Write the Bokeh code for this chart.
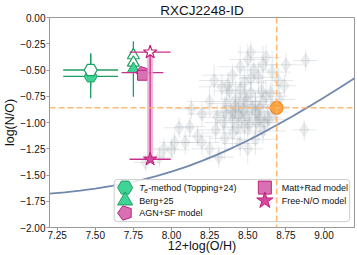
from bokeh.plotting import figure
from bokeh.models import Range1d, FixedTicker, Span
from bokeh.core.properties import value
from bokeh.embed import file_html
from bokeh.resources import INLINE

title_text = "RXCJ2248-ID"
x_label = "12+log(O/H)"
y_label = "log(N/O)"
x_ticks = [7.25, 7.50, 7.75, 8.00, 8.25, 8.50, 8.75, 9.00]
x_tick_labels = ["7.25", "7.50", "7.75", "8.00", "8.25", "8.50", "8.75", "9.00"]
y_ticks = [0.0, -0.25, -0.5, -0.75, -1.0, -1.25, -1.5, -1.75, -2.0]
y_tick_labels = ["0.00", "\u22120.25", "\u22120.50", "\u22120.75", "\u22121.00",
                 "\u22121.25", "\u22121.50", "\u22121.75", "\u22122.00"]

# comparison sample (grey)
cloud_oh = [8.50, 8.62, 8.88, 8.45, 8.54, 8.57, 8.40, 8.28, 8.33, 8.74, 8.66, 8.70,
            8.48, 8.60, 8.52, 8.75, 8.13, 8.35, 8.55, 8.64, 8.48, 8.42, 8.52, 8.60,
            8.38, 8.45, 8.58, 8.68, 8.25, 8.30, 8.50, 8.62, 8.40, 8.56, 8.20, 8.71,
            8.12, 8.29, 8.55, 8.31, 8.87, 8.20, 7.83, 7.92, 8.02, 8.00, 8.09, 8.17,
            8.40, 8.45, 8.35, 8.60, 8.05, 7.95, 8.25, 8.50, 8.36, 8.47, 8.44, 8.58,
            8.42, 8.49, 8.53, 8.57, 8.63, 8.39, 8.46, 8.51, 8.61, 8.66, 8.43, 8.55,
            8.34, 8.48, 8.59, 8.37, 8.52, 8.45, 8.65, 8.41]
cloud_no = [-0.40, -0.38, -0.41, -0.47, -0.50, -0.57, -0.55, -0.60, -0.66, -0.65, -0.52, -0.60,
            -0.62, -0.45, -0.33, -0.45, -0.87, -0.90, -0.90, -0.97, -1.04, -0.78, -0.72, -0.80,
            -0.70, -0.85, -0.86, -0.90, -0.80, -0.95, -0.95, -0.75, -0.98, -1.00, -0.92, -0.78,
            -1.04, -1.07, -1.16, -1.33, -1.07, -1.19, -1.38, -1.33, -1.19, -1.26, -1.19, -1.13,
            -1.10, -1.20, -1.15, -1.08, -1.05, -1.25, -1.25, -1.25, -0.82, -0.88, -0.93, -0.98,
            -0.84, -0.80, -0.86, -0.92, -0.95, -0.89, -0.96, -1.02, -1.00, -0.85, -1.05, -0.83,
            -1.00, -0.76, -0.70, -0.64, -0.58, -0.69, -0.72, -0.91]
cloud_oh_err = [0.12, 0.10, 0.08, 0.15, 0.10, 0.12, 0.20, 0.10, 0.15, 0.08, 0.12, 0.10,
                0.14, 0.10, 0.09, 0.11, 0.12, 0.18, 0.10, 0.12, 0.15, 0.10, 0.20, 0.12,
                0.10, 0.12, 0.10, 0.08, 0.15, 0.12, 0.10, 0.14, 0.10, 0.12, 0.10, 0.10,
                0.10, 0.12, 0.15, 0.10, 0.08, 0.12, 0.08, 0.10, 0.10, 0.12, 0.10, 0.10,
                0.20, 0.12, 0.10, 0.15, 0.10, 0.10, 0.12, 0.10, 0.12, 0.10, 0.15, 0.10,
                0.10, 0.08, 0.12, 0.10, 0.09, 0.12, 0.10, 0.08, 0.10, 0.12, 0.10, 0.09,
                0.12, 0.10, 0.10, 0.12, 0.08, 0.10, 0.09, 0.12]
cloud_no_err = [0.15, 0.12, 0.10, 0.20, 0.12, 0.15, 0.10, 0.15, 0.12, 0.10, 0.20, 0.12,
                0.15, 0.18, 0.10, 0.12, 0.10, 0.15, 0.20, 0.12, 0.15, 0.18, 0.12, 0.20,
                0.10, 0.15, 0.12, 0.10, 0.15, 0.12, 0.18, 0.15, 0.12, 0.10, 0.12, 0.15,
                0.10, 0.12, 0.15, 0.10, 0.10, 0.12, 0.08, 0.10, 0.12, 0.10, 0.12, 0.10,
                0.15, 0.12, 0.20, 0.12, 0.10, 0.10, 0.12, 0.15, 0.15, 0.12, 0.18, 0.12,
                0.10, 0.12, 0.08, 0.10, 0.12, 0.10, 0.08, 0.10, 0.12, 0.10, 0.09, 0.12,
                0.10, 0.12, 0.10, 0.12, 0.10, 0.08, 0.10, 0.12]

# Nicholls+17 relation
curve_oh = [7.2, 7.3, 7.4, 7.5, 7.6, 7.7, 7.8, 7.9, 8.0, 8.1, 8.2, 8.3, 8.4, 8.5,
            8.6, 8.7, 8.8, 8.9, 9.0, 9.1, 9.2]
curve_no = [-1.678, -1.665, -1.649, -1.630, -1.607, -1.580, -1.548, -1.511, -1.468,
            -1.420, -1.366, -1.306, -1.241, -1.171, -1.096, -1.017, -0.935, -0.849,
            -0.761, -0.671, -0.578]

solar_oh = 8.69
solar_no = -0.86

te_oh = [7.47, 7.47]
te_no = [-0.50, -0.56]
te_oh_err = [0.18, 0.18]
te_no_err = [0.16, 0.21]

berg_oh = [7.75, 7.75, 7.75]
berg_no = [-0.36, -0.43, -0.49]
berg_no_err = [0.0, 0.0, 0.265]

agn_oh = [7.81]
agn_no = [-0.525]
agn_oh_err = [0.137]

matt_oh = [7.81]
matt_no = [-0.55]

free_oh = [7.86, 7.86]
free_no = [-0.33, -1.35]
free_oh_err = [0.135, 0.135]

legend_labels = ["-method (Topping+24)", "Berg+25", "AGN+SF model", "Matt+Rad model", "Free-N/O model"]

GREEN_E = "#1f9e63"
GREEN_F = "#3dd495"
MAG_E = "#c0207f"
MAG_F = "#d871b3"
MAG_BAR = "#c8308a"
ORANGE = "#f9a23e"
FONT = "Liberation Sans"

p = figure(frame_width=305, frame_height=210, x_range=Range1d(7.2, 9.2), y_range=Range1d(-2.0, 0.0),
           output_backend="svg", toolbar_location=None,
           min_border_left=47, min_border_right=3, min_border_top=16, min_border_bottom=0)
p.extra_x_ranges = {"lx": Range1d(0, 1)}
p.extra_y_ranges = {"ly": Range1d(0, 1)}
p.xgrid.visible = False
p.ygrid.visible = False
p.outline_line_color = "#999999"
p.background_fill_color = "white"
p.border_fill_color = "white"

p.title.text = title_text
p.title.align = "center"
p.title.text_font = FONT
p.title.text_font_size = "13.5px"
p.title.text_font_style = "normal"
p.title.text_color = "#111111"
p.title.standoff = 0
p.title.offset = 0

for ax in (p.xaxis[0], p.yaxis[0]):
    ax.axis_line_color = "#999999"
    ax.major_tick_line_color = "#999999"
    ax.major_tick_out = 3
    ax.major_tick_in = 0
    ax.minor_tick_line_color = None
    ax.major_label_text_font = FONT
    ax.major_label_text_font_size = "10px"
    ax.major_label_text_color = "#111111"
    ax.axis_label_text_font = FONT
    ax.axis_label_text_font_size = "12.5px"
    ax.axis_label_text_font_style = "normal"
    ax.axis_label_text_color = "#111111"
    ax.major_label_standoff = 1

p.xaxis[0].ticker = FixedTicker(ticks=x_ticks)
p.xaxis[0].major_label_overrides = dict(zip(x_ticks, x_tick_labels))
p.yaxis[0].ticker = FixedTicker(ticks=y_ticks)
p.yaxis[0].major_label_overrides = dict(zip(y_ticks, y_tick_labels))
p.xaxis[0].axis_label = x_label
p.yaxis[0].axis_label = y_label
p.xaxis[0].major_label_standoff = 0
p.xaxis[0].axis_label_standoff = -3
p.yaxis[0].axis_label_standoff = 0

# grey comparison sample
cx0 = [a - e for a, e in zip(cloud_oh, cloud_oh_err)]
cx1 = [a + e for a, e in zip(cloud_oh, cloud_oh_err)]
cy0 = [a - e for a, e in zip(cloud_no, cloud_no_err)]
cy1 = [a + e for a, e in zip(cloud_no, cloud_no_err)]
p.segment(cx0, cloud_no, cx1, cloud_no, line_color="#a9b3b8", line_alpha=0.3, line_width=1)
p.segment(cloud_oh, cy0, cloud_oh, cy1, line_color="#a9b3b8", line_alpha=0.3, line_width=1)
p.scatter(cloud_oh, cloud_no, marker="diamond", size=14, fill_color="#95a0a5", fill_alpha=0.18,
          line_color="#95a0a5", line_alpha=0.12)

# relation
p.line(curve_oh, curve_no, line_color="#7189ad", line_width=1.8)

# solar
p.add_layout(Span(location=solar_oh, dimension="height", line_color="#ffb266", line_width=1.6,
                  line_dash="6 3", line_alpha=0.9))
p.add_layout(Span(location=solar_no, dimension="width", line_color="#ffb266", line_width=1.6,
                  line_dash="6 3", line_alpha=0.9))
p.scatter([solar_oh], [solar_no], marker="circle", size=13, fill_color=ORANGE, line_color="#e8861a",
          line_width=1)

# Te method
p.segment([a - e for a, e in zip(te_oh, te_oh_err)], te_no, [a + e for a, e in zip(te_oh, te_oh_err)], te_no,
          line_color=GREEN_E, line_width=1.3)
p.segment(te_oh, [a - e for a, e in zip(te_no, te_no_err)], te_oh, [a + e for a, e in zip(te_no, te_no_err)],
          line_color=GREEN_E, line_width=1.3)
p.scatter(te_oh[1:], te_no[1:], marker="hex", size=13, fill_color=GREEN_F, line_color=GREEN_E, line_width=1)
p.scatter(te_oh[:1], te_no[:1], marker="hex", size=13, fill_color="white", line_color=GREEN_E, line_width=1.2)

# Berg+25
p.segment(berg_oh, [a - e for a, e in zip(berg_no, berg_no_err)], berg_oh,
          [a + e for a, e in zip(berg_no, berg_no_err)], line_color=GREEN_E, line_width=1.3)
p.scatter(berg_oh[:2], berg_no[:2], marker="triangle", size=12, fill_color="white", line_color=GREEN_E,
          line_width=1.2)
p.scatter(berg_oh[2:], berg_no[2:], marker="triangle", size=12, fill_color=GREEN_F, line_color=GREEN_E,
          line_width=1)

# AGN+SF / Matt+Rad
p.segment([a - e for a, e in zip(agn_oh, agn_oh_err)], agn_no, [a + e for a, e in zip(agn_oh, agn_oh_err)],
          agn_no, line_color=MAG_BAR, line_width=1.3)
p.ngon(agn_oh, agn_no, radius=6.5, radius_units="screen", n=5, angle=1.5707963, fill_color=MAG_F,
       line_color=MAG_E, line_width=1)
p.scatter(matt_oh, matt_no, marker="square", size=10, fill_color=MAG_F, line_color=MAG_E, line_width=1)

# Free N/O
p.segment([free_oh[0]], [free_no[0]], [free_oh[1]], [free_no[1]], line_color="#e9a6cf", line_width=6,
          line_alpha=0.8)
p.segment([free_oh[0]], [free_no[0]], [free_oh[1]], [free_no[1]], line_color=MAG_BAR, line_width=1.3)
p.segment([a - e for a, e in zip(free_oh, free_oh_err)], free_no, [a + e for a, e in zip(free_oh, free_oh_err)],
          free_no, line_color=MAG_BAR, line_width=1.3)
p.scatter(free_oh[:1], free_no[:1], marker="star", size=14, fill_color="white", line_color=MAG_E, line_width=1.2)
p.scatter(free_oh[1:], free_no[1:], marker="star", size=14, fill_color="#d6479e", line_color=MAG_E, line_width=1)

# legend (drawn in frame-fraction coordinates)
leg_box = dict(left=[0.212], right=[0.984], bottom=[0.028], top=[0.228])
p.quad(**leg_box, x_range_name="lx", y_range_name="ly", fill_color="white", fill_alpha=0.85,
       line_color="#cccccc", line_width=1, border_radius=3)
row_y = [0.190, 0.128, 0.069]
col_x = [0.248, 0.706]
p.scatter([col_x[0]], [row_y[0]], marker="hex", size=15, fill_color=GREEN_F, line_color=GREEN_E,
          x_range_name="lx", y_range_name="ly")
p.scatter([col_x[0]], [row_y[1]], marker="triangle", size=15, fill_color=GREEN_F, line_color=GREEN_E,
          x_range_name="lx", y_range_name="ly")
p.ngon([col_x[0]], [row_y[2]], radius=7.5, radius_units="screen", n=5, angle=1.5707963, fill_color=MAG_F,
       line_color=MAG_E, x_range_name="lx", y_range_name="ly")
p.scatter([col_x[1]], [row_y[0]], marker="square", size=13, fill_color=MAG_F, line_color=MAG_E,
          x_range_name="lx", y_range_name="ly")
p.scatter([col_x[1]], [row_y[1]], marker="star", size=17, fill_color="#d6479e", line_color=MAG_E,
          x_range_name="lx", y_range_name="ly")

tkw = dict(x_range_name="lx", y_range_name="ly", text_font=value(FONT), text_font_size="9px",
           text_baseline="middle", text_align="left", text_color="#111111")
p.text([col_x[0]], [row_y[0]], text=["T"], x_offset=14, text_font_style="italic", **tkw)
p.text([col_x[0]], [row_y[0]], text=["e"], x_offset=19, y_offset=2.5, text_font_style="italic",
       **{**tkw, "text_font_size": "6.5px"})
p.text([col_x[0]], [row_y[0]], text=[legend_labels[0]], x_offset=23, **tkw)
p.text([col_x[0]], [row_y[1]], text=[legend_labels[1]], x_offset=14, **tkw)
p.text([col_x[0]], [row_y[2]], text=[legend_labels[2]], x_offset=14, **tkw)
p.text([col_x[1]], [row_y[0]], text=[legend_labels[3]], x_offset=17, **tkw)
p.text([col_x[1]], [row_y[1]], text=[legend_labels[4]], x_offset=17, **tkw)

open("out.html", "w").write(file_html(p, INLINE))
